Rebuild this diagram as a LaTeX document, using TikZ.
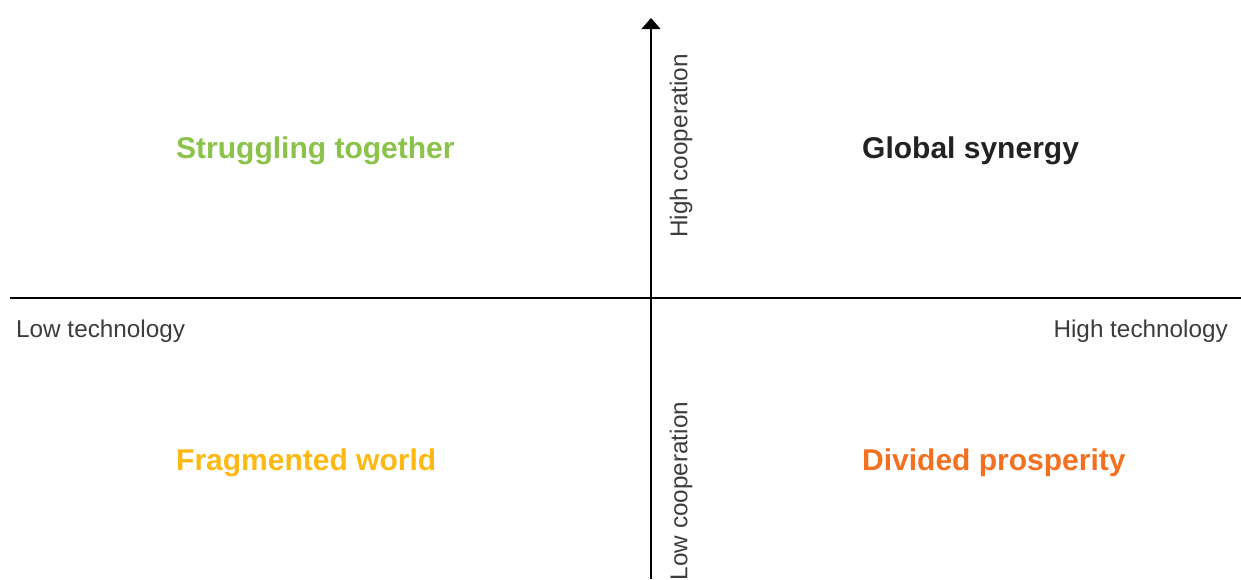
\documentclass[tikz,border=0pt]{standalone}
\usepackage{fontspec}
\setmainfont{Liberation Sans}
\usetikzlibrary{arrows.meta}
\definecolor{cgreen}{HTML}{8BC34A}
\definecolor{cyellow}{HTML}{FDB913}
\definecolor{corange}{HTML}{F37021}
\definecolor{cdark}{HTML}{222222}
\definecolor{clabel}{HTML}{3C3C3C}
\begin{document}
\begin{tikzpicture}[x=1pt,y=-1pt,
  axis/.style={line width=1.3pt,black},
  title/.style={anchor=west,inner sep=0pt,font=\fontsize{30}{35}\selectfont\bfseries},
  axlabel/.style={inner sep=0pt,text=clabel,font=\fontsize{24.3}{29}\selectfont}]
\useasboundingbox (0,0) rectangle (1241,579);
\coordinate (hl) at (10,298);
\coordinate (hr) at (1241,298);
\coordinate (vb) at (651,579);
\coordinate (vt) at (651,18);
\draw[axis] (hl) -- (hr);
\draw[axis,-{Triangle[length=11pt,width=19pt]}] (vb) -- (vt);
\node[axlabel,rotate=90] (hc) at (681,146) {High cooperation};
\node[axlabel,rotate=90] (lc) at (681,491) {Low cooperation};
\node[axlabel,anchor=west] (lt) at (16,331) {Low technology};
\node[axlabel,anchor=east] (ht) at (1228,331) {High technology};
\node[title,text=cgreen] (st) at (176,151) {Struggling together};
\node[title,text=cdark] (gs) at (862,151) {Global synergy};
\node[title,text=cyellow] (fw) at (176,463) {Fragmented world};
\node[title,text=corange] (dp) at (862,463) {Divided prosperity};
\end{tikzpicture}
\end{document}
